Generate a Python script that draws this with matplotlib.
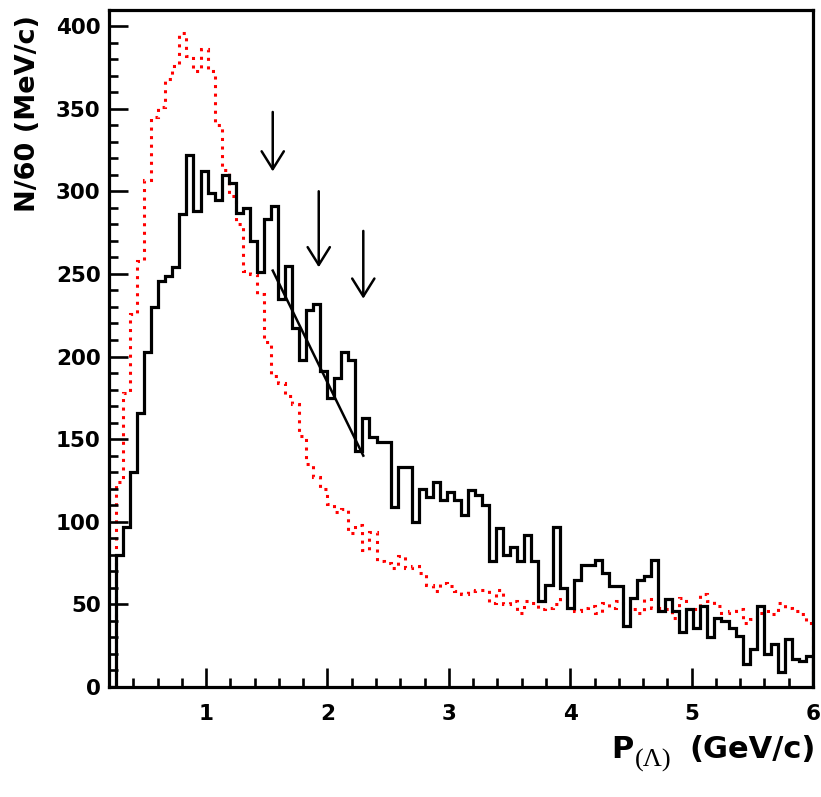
import matplotlib
matplotlib.use("Agg")
import matplotlib.pyplot as plt
from matplotlib.transforms import IdentityTransform
import numpy as np

plt.rcParams['font.family'] = ['DejaVu Sans']
plt.rcParams['font.weight'] = 'bold'

# binning: 100 bins between 0.2 and 6.0 GeV/c
p_min, p_max, n_bins = 0.2, 6.0, 100

# data histogram (black)
data_counts = [
    0, 80, 97, 130, 166, 203, 230, 246, 249, 254,
    286, 322, 288, 312, 299, 295, 310, 305, 287, 290,
    270, 251, 283, 291, 235, 255, 217, 198, 228, 232,
    191, 175, 187, 203, 198, 143, 163, 151, 148, 148,
    109, 133, 133, 100, 120, 115, 124, 113, 118, 113,
    104, 119, 116, 110, 76, 96, 80, 85, 76, 92,
    76, 52, 62, 97, 60, 48, 65, 74, 74, 77,
    69, 61, 61, 37, 54, 65, 67, 77, 46, 53,
    46, 33, 47, 36, 49, 30, 42, 40, 36, 31,
    14, 23, 49, 20, 26, 9, 29, 17, 16, 19,
]

# simulation histogram (red dotted)
mc_counts = [
    0, 124, 178, 226, 258, 307, 345, 351, 368, 376,
    396, 382, 373, 386, 373, 340, 313, 297, 280, 252,
    250, 238, 209, 188, 184, 176, 171, 152, 135, 127,
    120, 111, 106, 108, 93, 98, 83, 94, 76, 75,
    72, 79, 72, 73, 69, 62, 58, 63, 61, 58,
    56, 58, 59, 59, 51, 59, 50, 52, 45, 52,
    51, 47, 48, 50, 53, 52, 46, 48, 49, 45,
    51, 48, 52, 45, 47, 45, 53, 48, 48, 47,
    42, 54, 47, 47, 56, 52, 49, 45, 46, 47,
    39, 41, 45, 46, 44, 51, 48, 46, 44, 39,
]

# arrows: x position, tail and tip heights
arrow_x = [1.549, 1.928, 2.295]
arrow_top = [348, 300, 276]
arrow_tip = [312, 254, 235]

# straight line through the falling edge
fit_x = [1.549, 2.295]
fit_y = [252, 140]

edges = np.linspace(p_min, p_max, n_bins + 1)

W, H = 821, 797
fig = plt.figure(figsize=(W / 100, H / 100), dpi=100)
ax = fig.add_axes([109 / W, 110 / H, 704 / W, 677.5 / H])

ax.stairs(mc_counts, edges, color='red', linewidth=2.2,
          linestyle=(0, (1, 1.8)))
ax.stairs(data_counts, edges, color='black', linewidth=2.3)
ax.plot(fit_x, fit_y, color='black', linewidth=1.8)

for x, y0, y1 in zip(arrow_x, arrow_top, arrow_tip):
    ax.annotate('', xy=(x, y1), xytext=(x, y0),
                arrowprops=dict(arrowstyle='->,head_length=1.28,head_width=0.8',
                                mutation_scale=10, color='black', lw=1.8,
                                shrinkA=0, shrinkB=0))

ax.set_xlim(p_min, p_max)
ax.set_ylim(0, 410)
ax.set_xticks([1, 2, 3, 4, 5, 6])
ax.set_xticks(np.arange(0.4, 6.0, 0.2), minor=True)
ax.set_yticks(np.arange(0, 401, 50))
ax.set_yticks(np.arange(0, 410, 10), minor=True)

for s in ax.spines.values():
    s.set_linewidth(2.3)

ax.tick_params(which='both', direction='in', width=1.9, top=False, right=False)
ax.tick_params(which='major', length=13.5)
ax.tick_params(which='minor', length=6.5)
ax.tick_params(axis='x', which='major', pad=12, labelsize=15.5)
ax.tick_params(axis='y', which='major', pad=6, labelsize=15.5)
for lab in ax.get_xticklabels() + ax.get_yticklabels():
    lab.set_fontweight('bold')

ax.set_ylabel('N/60 (MeV/c)', fontsize=19.5, fontweight='bold', loc='top')
ax.yaxis.set_label_coords(-0.096, 0.992)

# x title built from pieces so the subscript can be larger, ROOT-like
px = IdentityTransform()
t_unit = fig.text(816, H - 758, '(GeV/c)', transform=px, ha='right',
                  va='baseline', fontsize=22, fontweight='bold')
r = fig.canvas.get_renderer()
bb = t_unit.get_window_extent(r)
t_sub = fig.text(bb.x0 - 18, H - 767, '(\u039b)', transform=px, ha='right',
                 va='baseline', fontsize=19, fontweight='normal',
                 family='Liberation Serif')
bb2 = t_sub.get_window_extent(r)
fig.text(bb2.x0 - 2, H - 758, 'P', transform=px, ha='right',
         va='baseline', fontsize=22, fontweight='bold')

fig.savefig('out.png', dpi=100)
